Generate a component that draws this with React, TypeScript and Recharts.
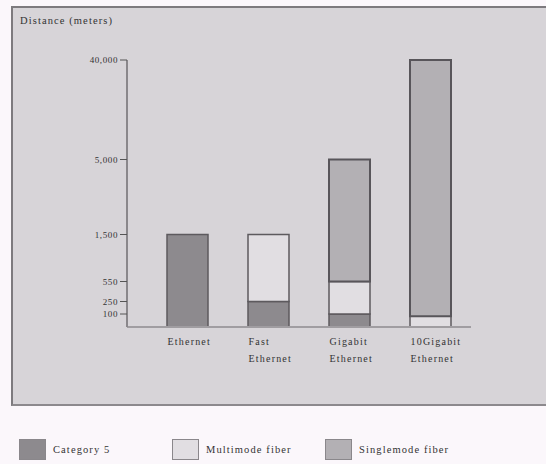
import React from "react";
import { BarChart, Bar, XAxis, YAxis } from "recharts";

// Categories and how far each cable type reaches (meters, top of its segment)
const categories = ["Ethernet", "Fast Ethernet", "Gigabit Ethernet", "10Gigabit Ethernet"];
const categoryLines = [["Ethernet"], ["Fast", "Ethernet"], ["Gigabit", "Ethernet"], ["10Gigabit", "Ethernet"]];
const category5Reach = [1500, 250, 100, null];
const multimodeReach = [null, 1500, 550, 82];
const singlemodeReach = [null, null, 5000, 40000];

// The value axis is a broken (piecewise) scale: each labelled value and its height on the axis
const axisValues = [0, 100, 250, 550, 1500, 5000, 40000];
const axisHeights = [0, 13, 25.5, 45.5, 92.5, 167.5, 267];
const tickLabels = ["", "100", "250", "550", "1,500", "5,000", "40,000"];

const seriesNames = ["Category 5", "Multimode fiber", "Singlemode fiber"];
const seriesFills = ["#8d8a8e", "#e1dee2", "#b3b0b4"];

const FONT = "'Liberation Serif', 'DejaVu Serif', serif";

function toAxis(v: number): number {
  for (let i = 1; i < axisValues.length; i++) {
    if (v <= axisValues[i]) {
      const t = (v - axisValues[i - 1]) / (axisValues[i] - axisValues[i - 1]);
      return axisHeights[i - 1] + t * (axisHeights[i] - axisHeights[i - 1]);
    }
  }
  return axisHeights[axisHeights.length - 1];
}

const data = categories.map((name, i) => {
  const c5 = category5Reach[i];
  const mm = multimodeReach[i];
  const sm = singlemodeReach[i];
  const base1 = c5 ?? 0;
  const base2 = Math.max(base1, mm ?? 0);
  return {
    name,
    cat5: c5 == null ? null : toAxis(c5),
    multimode: mm == null ? null : toAxis(mm) - toAxis(base1),
    singlemode: sm == null ? null : toAxis(sm) - toAxis(base2),
  };
});

const CategoryTick = (props: any) => {
  const { x, y, payload } = props;
  const lines = categoryLines[payload.index] ?? [payload.value];
  return (
    <text x={x - 20} y={y + 10} textAnchor="start" fontFamily={FONT} fontSize={10} fill="#333" letterSpacing={1.2}>
      {lines.map((l: string, k: number) => (
        <tspan key={k} x={x - 20} dy={k === 0 ? 0 : 17}>{l}</tspan>
      ))}
    </text>
  );
};

export default function App() {
  return (
    <div style={{ position: "absolute", left: 0, top: 0, width: 546, height: 464, background: "#fbf7fb", overflow: "hidden" }}>
      <div
        style={{
          position: "absolute", left: 11, top: 6, width: 540, height: 400,
          background: "#d7d4d8", borderTop: "2px solid #7d7a7e", borderLeft: "2px solid #7d7a7e",
          borderBottom: "2px solid #8c898d", boxSizing: "border-box",
        }}
      />
      <div style={{ position: "absolute", left: 20, top: 15, fontFamily: FONT, fontSize: 10.5, color: "#333", letterSpacing: 1.1 }}>
        Distance (meters)
      </div>
      <div style={{ position: "absolute", left: 0, top: 0 }}>
        <BarChart width={546} height={464} data={data} margin={{ top: 60, right: 75, left: 10, bottom: 97 }} barSize={41}>
          <XAxis
            dataKey="name"
            height={40}
            interval={0}
            padding={{ left: 20, right: 0 }}
            tickLine={false}
            axisLine={{ stroke: "#a09da1", strokeWidth: 2 }}
            tick={<CategoryTick />}
          />
          <YAxis
            width={117}
            type="number"
            domain={[0, axisHeights[axisHeights.length - 1]]}
            ticks={axisHeights.slice(1)}
            interval={0}
            tickFormatter={(v: number) => tickLabels[axisHeights.indexOf(v)]}
            axisLine={{ stroke: "#8a878b", strokeWidth: 2 }}
            tickLine={{ stroke: "#555" }}
            tickSize={7}
            tick={{ fontFamily: FONT, fontSize: 9, fill: "#333", letterSpacing: 0.6 } as any}
          />
          <Bar dataKey="cat5" stackId="a" fill={seriesFills[0]} stroke="#5d5a5e" strokeWidth={1.5} isAnimationActive={false} />
          <Bar dataKey="multimode" stackId="a" fill={seriesFills[1]} stroke="#5d5a5e" strokeWidth={1.5} isAnimationActive={false} />
          <Bar dataKey="singlemode" stackId="a" fill={seriesFills[2]} stroke="#58555a" strokeWidth={2} isAnimationActive={false} />
        </BarChart>
      </div>
      {seriesNames.map((n, i) => (
        <div key={n} style={{ position: "absolute", left: 19 + i * 153, top: 439, display: "flex", alignItems: "center" }}>
          <div style={{ width: 27, height: 21, background: seriesFills[i], border: "1px solid #8a878b", boxSizing: "border-box" }} />
          <span style={{ marginLeft: 7, fontFamily: FONT, fontSize: 10.5, color: "#333", letterSpacing: 1.1 }}>{n}</span>
        </div>
      ))}
    </div>
  );
}
